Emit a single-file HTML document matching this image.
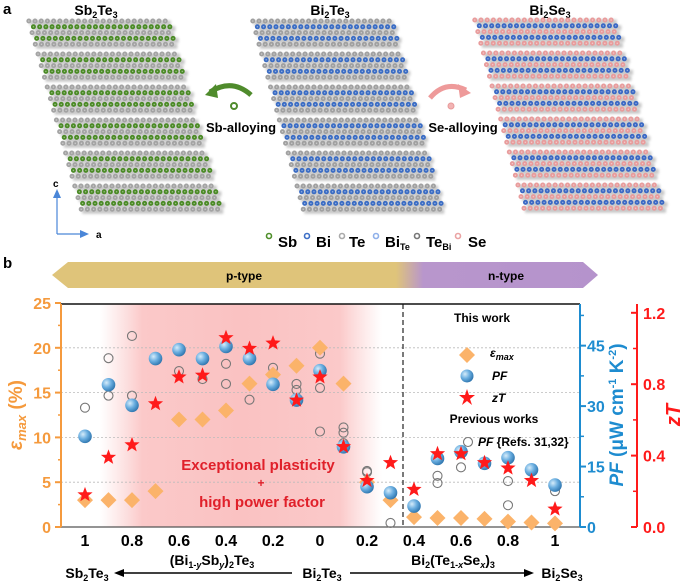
<!DOCTYPE html>
<html><head><meta charset="utf-8"><style>
body{margin:0;background:#fff;}
svg{display:block;font-family:"Liberation Sans",sans-serif;}
</style></head><body>
<svg width="685" height="581" viewBox="0 0 685 581" xmlns="http://www.w3.org/2000/svg">
<defs>
<radialGradient id="sph" cx="0.35" cy="0.35" r="0.7">
<stop offset="0" stop-color="#d6ecfa"/><stop offset="0.5" stop-color="#6aaee0"/><stop offset="1" stop-color="#2d74ad"/></radialGradient>
<linearGradient id="band" x1="0" x2="1">
<stop offset="0" stop-color="#dfc47a"/><stop offset="0.63" stop-color="#dfc47a"/><stop offset="0.68" stop-color="#b896cc"/><stop offset="1" stop-color="#b593cc"/></linearGradient>
<linearGradient id="pinkband" x1="0" x2="1">
<stop offset="0" stop-color="#fbd0d0" stop-opacity="0"/><stop offset="0.15" stop-color="#fbc9c9"/><stop offset="0.5" stop-color="#fac2c2"/><stop offset="0.85" stop-color="#fbc9c9"/><stop offset="1" stop-color="#fbd0d0" stop-opacity="0"/></linearGradient>
<filter id="blur" x="-5%" y="-5%" width="110%" height="110%"><feGaussianBlur stdDeviation="1.2"/></filter>
</defs>
<g id="panelA">
<text x="3" y="14" font-size="15" font-weight="bold">a</text>
<text x="96" y="15" font-size="14" font-weight="bold" text-anchor="middle">Sb<tspan font-size="9" dy="3">2</tspan><tspan dy="-3">Te</tspan><tspan font-size="9" dy="3">3</tspan></text>
<text x="330" y="15" font-size="14" font-weight="bold" text-anchor="middle">Bi<tspan font-size="9" dy="3">2</tspan><tspan dy="-3">Te</tspan><tspan font-size="9" dy="3">3</tspan></text>
<text x="550" y="15" font-size="14" font-weight="bold" text-anchor="middle">Bi<tspan font-size="9" dy="3">2</tspan><tspan dy="-3">Se</tspan><tspan font-size="9" dy="3">3</tspan></text>
<g id="lattices"></g>
<path d="M251,95 Q232,78 210,92" fill="none" stroke="#4f8b2c" stroke-width="5"/>
<polygon points="205,95 216,84 218,98" fill="#4f8b2c"/>
<circle cx="234" cy="106" r="3" fill="none" stroke="#4f8b2c" stroke-width="2"/>
<text x="241" y="132" font-size="13" font-weight="bold" text-anchor="middle">Sb-alloying</text>
<path d="M430,98 Q445,80 466,90" fill="none" stroke="#ee9a9a" stroke-width="5"/>
<polygon points="471,93 458,84 460,98" fill="#ee9a9a"/>
<circle cx="451" cy="106" r="3" fill="#f2b4b4" stroke="#e89a9a"/>
<text x="463" y="132" font-size="13" font-weight="bold" text-anchor="middle">Se-alloying</text>
<g stroke="#4a86d8" stroke-width="1.2">
<line x1="57" y1="234" x2="57" y2="197"/><line x1="57" y1="234" x2="80" y2="234"/></g>
<polygon points="53,198 61,198 57,189" fill="#4a86d8"/><polygon points="80,230 80,238 89,234" fill="#4a86d8"/>
<text x="53" y="187" font-size="10" font-weight="bold">c</text>
<text x="96" y="238" font-size="10" font-weight="bold">a</text>
<g id="atomlegend" font-size="15" font-weight="bold"></g>
</g>
<text x="3" y="268" font-size="15" font-weight="bold">b</text>
<polygon points="52,275 68,262 583,262 598,275 583,288 68,288" fill="url(#band)"/>
<text x="244" y="280" font-size="12" font-weight="bold" text-anchor="middle">p-type</text>
<text x="506" y="280" font-size="12" font-weight="bold" text-anchor="middle">n-type</text>
<rect x="100" y="304" width="282" height="223" fill="url(#pinkband)"/>
<g id="chart"></g>
</svg>
<script>
// ---- data ----
const xLabelsLeft = ["1","0.8","0.6","0.4","0.2","0"];
const xLabelsRight = ["0.2","0.4","0.6","0.8","1"];
const epsTicks = [0,5,10,15,20,25];
const pfTicks = [0,15,30,45];
const ztTicks = [0.0,0.4,0.8,1.2];
const epsValues = [3,3,3,4,12,12,13,16,17,18,20,16,5,3,1.1,1.0,1.0,0.9,0.6,0.5,0.4];
const pfValues = [22.5,35.3,30.2,41.8,44,41.8,44.8,41.8,35.4,31.5,38.8,19.9,10,8.5,5.2,17,18.7,15.8,17.2,14.2,10.4];
const ztValues = [0.18,0.39,0.46,0.69,0.84,0.85,1.06,1.0,1.03,0.71,0.84,0.45,0.26,0.36,0.21,0.41,0.41,0.36,0.33,0.26,0.10];
const prevIdx = [0,1,1,2,2,4,5,6,6,7,8,9,9,10,10,10,11,11,11,12,12,13,15,15,16,18,18,20];
const prevPF = [29.6,41.9,32.6,47.4,32.6,38.7,36.7,40.5,35.5,31.6,39.5,35.5,34,43,34.5,23.7,24.7,23.4,20.8,13.9,13.6,1,12.7,10.9,14.8,11.4,5.4,8.9];

const NS="http://www.w3.org/2000/svg";
function mk(tag,attrs,parent,txt){const e=document.createElementNS(NS,tag);for(const k in attrs)e.setAttribute(k,attrs[k]);if(txt!==undefined)e.textContent=txt;parent.appendChild(e);return e;}
const xS=i=>85+i*23.5;
const yE=v=>527-v*8.96;
const yPF=v=>527-v*4.03;
const theZ=178.5;
const yZT=v=>527-v*theZ;

// ---- lattices ----
const lat=document.getElementById('lattices');
const panels=[
 {tl:[25,18],tr:[172,18],bl:[79,212],a:"#a3a3a3",b:"#4a8a25",name:"sb2te3-lattice"},
 {tl:[249,18],tr:[395,18],bl:[301,212],a:"#a0a0a0",b:"#3a6cc4",name:"bi2te3-lattice"},
 {tl:[471,17],tr:[618,17],bl:[522,212],a:"#e89c9c",b:"#3a68c4",name:"bi2se3-lattice"}];
panels.forEach(p=>{
 const g=mk('g',{},lat);
 
 
 const H=p.bl[1]-p.tl[1],slope=(p.bl[0]-p.tl[0])/H,w=p.tr[0]-p.tl[0];
 const sh=mk('g',{filter:'url(#blur)',opacity:0.55},g);
 for(let q=0;q*33<H-6;q++){
  for(let r=0;r<5;r++){
   const y=3+q*33+r*5.8; if(y>H-2)continue;
   const col=(r===1||r===3)?p.b:p.a;
   const x0=p.tl[0]+y*slope+(r%2?3:0);
   mk('line',{x1:x0+4,y1:p.tl[1]+y+2,x2:x0+w-2,y2:p.tl[1]+y+2,stroke:'#999','stroke-width':5},sh);
   mk('line',{x1:x0+3,y1:p.tl[1]+y,x2:x0+w-3,y2:p.tl[1]+y,stroke:col,'stroke-width':5,'stroke-dasharray':'0 6.2','stroke-linecap':'round'},g);
   mk('line',{x1:x0+3,y1:p.tl[1]+y,x2:x0+w-3,y2:p.tl[1]+y,stroke:'#fff','stroke-opacity':0.45,'stroke-width':1.5,'stroke-dasharray':'0 6.2','stroke-linecap':'round'},g);
  }
 }
});
// atom legend
const al=document.getElementById('atomlegend');
[["Sb","#4f8f2a",269,278,""],["Bi","#3d6fc6",307,316,""],["Te","#aaaaaa",342,349,""],["Bi","#8fb0ea",376,385,"Te"],["Te","#777",417,426,"Bi"],["Se","#eaa3a3",458,468,""]].forEach(d=>{
 mk('circle',{cx:d[2],cy:236,r:2.5,fill:'none',stroke:d[1],'stroke-width':1.6},al);
 const t=mk('text',{x:d[3],y:247},al,d[0]);
 if(d[4]){mk('tspan',{'font-size':9,dy:3},t,d[4]);}
});

// ---- chart ----
const ch=document.getElementById('chart');
const orange="#f59a3d",blue="#1e8cd0",red="#ff1a1a";
epsTicks.slice(1,5).forEach(v=>{const l=mk('line',{x1:61,x2:580,y1:yE(v),y2:yE(v),stroke:'#bbb','stroke-dasharray':'2 2','stroke-width':0.8},ch);});
mk('line',{x1:403,x2:403,y1:304,y2:527,stroke:'#222','stroke-dasharray':'5 3','stroke-width':1.2},ch);
const ax=mk('g',{},ch);
mk('line',{x1:61,x2:580,y1:304,y2:304,stroke:'#111','stroke-width':1.5},ax);
mk('line',{x1:61,x2:580,y1:527,y2:527,stroke:'#555','stroke-width':1.2},ax);
mk('line',{x1:61,x2:61,y1:304,y2:527,stroke:orange,'stroke-width':2},ax);
mk('line',{x1:580,x2:580,y1:304,y2:527,stroke:blue,'stroke-width':2},ax);
mk('line',{x1:637,x2:637,y1:304,y2:527,stroke:red,'stroke-width':2},ax);
epsTicks.forEach(v=>{mk('line',{x1:55,x2:61,y1:yE(v),y2:yE(v),stroke:orange,'stroke-width':2},ax);
 const t=mk('text',{x:51,y:yE(v)+6,'font-size':16,'font-weight':'bold',fill:orange,'text-anchor':'end'},ax,String(v));});
for(let v=2.5;v<25;v+=5)mk('line',{x1:58,x2:61,y1:yE(v),y2:yE(v),stroke:orange,'stroke-width':1.5},ax);
pfTicks.forEach(v=>{mk('line',{x1:580,x2:586,y1:yPF(v),y2:yPF(v),stroke:blue,'stroke-width':2},ax);
 const t=mk('text',{x:587,y:yPF(v)+6,'font-size':16,'font-weight':'bold',fill:blue},ax,String(v));});
for(let v=7.5;v<55;v+=15)mk('line',{x1:580,x2:584,y1:yPF(v),y2:yPF(v),stroke:blue,'stroke-width':1.5},ax);
ztTicks.forEach(v=>{mk('line',{x1:631,x2:637,y1:yZT(v),y2:yZT(v),stroke:red,'stroke-width':2},ax);
 const t=mk('text',{x:643,y:yZT(v)+6,'font-size':16,'font-weight':'bold',fill:red},ax,v.toFixed(1));});
for(let v=0.2;v<1.2;v+=0.4)mk('line',{x1:633,x2:637,y1:yZT(v),y2:yZT(v),stroke:red,'stroke-width':1.5},ax);
xLabelsLeft.forEach((s,k)=>{const t=mk('text',{x:xS(k*2),y:546,'font-size':16,'font-weight':'bold','text-anchor':'middle'},ax,s);});
xLabelsRight.forEach((s,k)=>{const t=mk('text',{x:xS(12+k*2),y:546,'font-size':16,'font-weight':'bold','text-anchor':'middle'},ax,s);});
prevIdx.forEach((i,k)=>{const c=mk('circle',{cx:xS(i),cy:yPF(prevPF[k]),r:4.5,fill:'none',stroke:'#777','stroke-width':1.1},ch);
 
 });
epsValues.forEach((v,i)=>{const x=xS(i),y=yE(v);const d=mk('polygon',{points:`${x},${y-8} ${x+8},${y} ${x},${y+8} ${x-8},${y}`,fill:'#fbb36a'},ch);
 
 });
pfValues.forEach((v,i)=>{const c=mk('circle',{cx:xS(i),cy:yPF(v),r:6.8,fill:'url(#sph)'},ch);
 
 });
function star(x,y,R){let p=[];for(let k=0;k<10;k++){const r=k%2?R*0.42:R;const a=-Math.PI/2+k*Math.PI/5;p.push((x+r*Math.cos(a)).toFixed(1)+','+(y+r*Math.sin(a)).toFixed(1));}return p.join(' ');}
ztValues.forEach((v,i)=>{const s=mk('polygon',{points:star(xS(i),yZT(v),8),fill:red},ch);
 
 });
</script>
<svg width="685" height="581" style="position:absolute;left:0;top:0;pointer-events:none" font-family="Liberation Sans, sans-serif">
<text x="258" y="470" font-size="15" font-weight="bold" fill="#e0202a" text-anchor="middle">Exceptional plasticity</text>
<text x="261" y="487" font-size="12" font-weight="bold" fill="#e0202a" text-anchor="middle">+</text>
<text x="262" y="507" font-size="15" font-weight="bold" fill="#e0202a" text-anchor="middle">high power factor</text>
<g font-size="12" font-weight="bold">
<text x="482" y="322" text-anchor="middle">This work</text>
<polygon points="467,347 475,355 467,363 459,355" fill="#fbb36a"/>
<text x="490" y="357" font-style="italic">ε<tspan font-size="9" dy="3">max</tspan></text>
<circle cx="467" cy="376" r="6.5" fill="url(#sph)"/>
<text x="492" y="380" font-style="italic">PF</text>
<polygon points="467,389 469,395 475,395 470,399 472,405 467,401 462,405 464,399 459,395 465,395" fill="#ff1a1a"/>
<text x="492" y="402" font-style="italic">zT</text>
<text x="494" y="423" text-anchor="middle">Previous works</text>
<circle cx="468" cy="442" r="4.5" fill="none" stroke="#777" stroke-width="1.1"/>
<text x="478" y="446"><tspan font-style="italic">PF</tspan> {Refs. 31,32}</text>
</g>
<text transform="translate(22,415) rotate(-90)" font-size="19" font-weight="bold" fill="#f59a3d" text-anchor="middle"><tspan font-style="italic">ε</tspan><tspan font-style="italic" font-size="13" dy="4">max</tspan><tspan dy="-4"> (%)</tspan></text>
<text transform="translate(623,415) rotate(-90)" font-size="19" font-weight="bold" fill="#1e8cd0" text-anchor="middle"><tspan font-style="italic">PF</tspan> (μW cm<tspan font-size="11" dy="-7">-1</tspan><tspan dy="7"> K</tspan><tspan font-size="11" dy="-7">-2</tspan><tspan dy="7">)</tspan></text>
<text transform="translate(680,415) rotate(-90)" font-size="20" font-weight="bold" font-style="italic" fill="#ff1a1a" text-anchor="middle">zT</text>
<g font-size="14" font-weight="bold">
<text x="212" y="565" text-anchor="middle">(Bi<tspan font-size="9" dy="3">1-<tspan font-style="italic">y</tspan></tspan><tspan dy="-3">Sb</tspan><tspan font-size="9" dy="3" font-style="italic">y</tspan><tspan dy="-3">)</tspan><tspan font-size="9" dy="3">2</tspan><tspan dy="-3">Te</tspan><tspan font-size="9" dy="3">3</tspan></text>
<text x="453" y="565" text-anchor="middle">Bi<tspan font-size="9" dy="3">2</tspan><tspan dy="-3">(Te</tspan><tspan font-size="9" dy="3">1-<tspan font-style="italic">x</tspan></tspan><tspan dy="-3">Se</tspan><tspan font-size="9" dy="3" font-style="italic">x</tspan><tspan dy="-3">)</tspan><tspan font-size="9" dy="3">3</tspan></text>
<text x="87" y="578" text-anchor="middle">Sb<tspan font-size="9" dy="3">2</tspan><tspan dy="-3">Te</tspan><tspan font-size="9" dy="3">3</tspan></text>
<text x="322" y="578" text-anchor="middle">Bi<tspan font-size="9" dy="3">2</tspan><tspan dy="-3">Te</tspan><tspan font-size="9" dy="3">3</tspan></text>
<text x="562" y="578" text-anchor="middle">Bi<tspan font-size="9" dy="3">2</tspan><tspan dy="-3">Se</tspan><tspan font-size="9" dy="3">3</tspan></text>
<line x1="122" y1="573" x2="292" y2="573" stroke="#000" stroke-width="1.5"/>
<polygon points="114,573 124,569 124,577" fill="#000"/>
<line x1="350" y1="573" x2="525" y2="573" stroke="#000" stroke-width="1.5"/>
<polygon points="534,573 524,569 524,577" fill="#000"/>
</g>
</svg>
</body></html>
